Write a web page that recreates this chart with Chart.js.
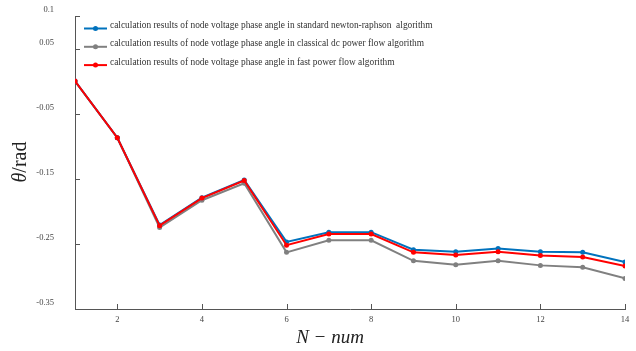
<!DOCTYPE html>
<html lang="en">
  <head>
    <meta charset="UTF-8" />
    <title>Node voltage phase angle</title>
    <script src="https://cdn.jsdelivr.net/npm/chart.js"></script>
    <style>
      body { margin: 0; background: #fff; }
      #wrap { width: 636px; height: 351px; }
    </style>
  </head>
  <body>
    <div id="wrap"><canvas id="angleChart" width="636" height="351"></canvas></div>

    <script>
      // node numbers
      const nodes = [1, 2, 3, 4, 5, 6, 7, 8, 9, 10, 11, 12, 13, 14]

      // phase angle (rad)
      const newtonRaphson = [0, -0.087, -0.221, -0.179, -0.152, -0.247, -0.232, -0.232, -0.259, -0.262, -0.257, -0.262, -0.263, -0.278]
      const classicalDc = [0, -0.087, -0.225, -0.183, -0.157, -0.263, -0.2445, -0.2445, -0.276, -0.282, -0.276, -0.283, -0.286, -0.303]
      const fastFlow = [0, -0.087, -0.222, -0.1797, -0.1527, -0.252, -0.235, -0.235, -0.263, -0.267, -0.262, -0.268, -0.27, -0.284]

      const xTicks = [2, 4, 6, 8, 10, 12, 14]
      const yTicks = [0.1, 0.05, -0.05, -0.15, -0.25, -0.35]

      const legendLabels = [
        'calculation results of node voltage phase angle in standard newton-raphson  algorithm',
        'calculation results of node votlage phase angle in classical dc power flow algorithm',
        'calculation results of node voltage phase angle in fast power flow algorithm',
      ]
      const colors = ['#0072BD', '#808080', '#FF0000']
      const series = [newtonRaphson, classicalDc, fastFlow]
      const drawOrder = [1, 2, 0]

      const serif = '"Liberation Serif", "DejaVu Serif", serif'
      const axisColor = '#555'

      const toPoints = (vals) => vals.map((v, i) => ({ x: nodes[i], y: v }))

      // inward tick marks, axis titles and the boxed legend
      const decorations = {
        id: 'decorations',
        afterDraw(chart) {
          const { ctx, chartArea, scales } = chart
          const xs = scales.x
          const ys = scales.y
          ctx.save()
          ctx.strokeStyle = axisColor
          ctx.lineWidth = 1
          xTicks.forEach((t) => {
            const px = Math.round(xs.getPixelForValue(t)) + 0.5
            ctx.beginPath()
            ctx.moveTo(px, chartArea.bottom)
            ctx.lineTo(px, chartArea.bottom - 5)
            ctx.stroke()
          })
          yTicks.forEach((t) => {
            const py = Math.round(ys.getPixelForValue(t)) + 0.5
            ctx.beginPath()
            ctx.moveTo(chartArea.left, py)
            ctx.lineTo(chartArea.left + 5, py)
            ctx.stroke()
          })

          // x title
          ctx.fillStyle = '#222'
          ctx.textAlign = 'center'
          ctx.textBaseline = 'middle'
          ctx.font = 'italic 19px ' + serif
          ctx.fillText('N \u2212 num', 330, 338)

          // y title (rotated)
          ctx.save()
          ctx.translate(21, 162)
          ctx.rotate(-Math.PI / 2)
          ctx.font = 'italic 20px ' + serif
          const thetaW = ctx.measureText('\u03b8').width
          ctx.font = '20px ' + serif
          const restW = ctx.measureText('/rad').width
          const start = -(thetaW + restW) / 2
          ctx.textAlign = 'left'
          ctx.font = 'italic 20px ' + serif
          ctx.fillText('\u03b8', start, 0)
          ctx.font = '20px ' + serif
          ctx.fillText('/rad', start + thetaW, 0)
          ctx.restore()

          // legend
          ctx.font = '9.4px ' + serif
          ctx.textAlign = 'left'
          ctx.textBaseline = 'middle'
          legendLabels.forEach((label, i) => {
            const y = 28.5 + i * 18.3
            ctx.strokeStyle = colors[i]
            ctx.lineWidth = 2
            ctx.beginPath()
            ctx.moveTo(84, y)
            ctx.lineTo(107, y)
            ctx.stroke()
            ctx.fillStyle = colors[i]
            ctx.beginPath()
            ctx.arc(95.5, y, 2.5, 0, Math.PI * 2)
            ctx.fill()
            ctx.fillStyle = '#333'
            ctx.fillText(label, 110, y - 3)
          })
          ctx.restore()
        },
      }

      new Chart(document.getElementById('angleChart'), {
        type: 'line',
        data: {
          datasets: series.map((vals, i) => ({
            label: legendLabels[i],
            data: toPoints(vals),
            borderColor: colors[i],
            backgroundColor: colors[i],
            borderWidth: 2,
            pointRadius: 2.5,
            pointBorderWidth: 0,
            order: drawOrder[i],
          })),
        },
        options: {
          responsive: false,
          animation: false,
          layout: { padding: { left: 0, right: 11, top: 16, bottom: 0 } },
          plugins: {
            legend: { display: false },
            tooltip: { enabled: false },
          },
          scales: {
            x: {
              type: 'linear',
              min: 1,
              max: 14,
              afterBuildTicks: (s) => {
                s.ticks = xTicks.map((v) => ({ value: v }))
              },
              afterFit: (s) => {
                s.height = 42
              },
              grid: { display: true, drawOnChartArea: false, drawTicks: false },
              border: { display: true, color: axisColor, width: 1 },
              ticks: {
                padding: 6,
                color: '#444',
                font: { family: serif, size: 8.5 },
              },
            },
            y: {
              min: -0.35,
              max: 0.1,
              afterBuildTicks: (s) => {
                s.ticks = yTicks.map((v) => ({ value: v }))
              },
              afterFit: (s) => {
                s.width = 75
              },
              grid: {
                display: true,
                drawOnChartArea: false,
                drawTicks: true,
                tickLength: 18,
                tickColor: 'rgba(0,0,0,0)',
              },
              border: { display: true, color: axisColor, width: 1 },
              ticks: {
                padding: 3,
                labelOffset: -6,
                color: '#444',
                font: { family: serif, size: 8.5 },
                callback: (v) => String(v),
              },
            },
          },
        },
        plugins: [decorations],
      })
    </script>
  </body>
</html>
